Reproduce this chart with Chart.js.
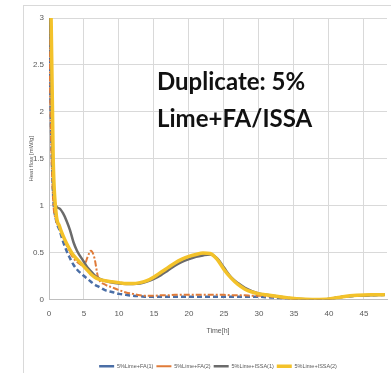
<!DOCTYPE html>
<html>
<head>
<meta charset="utf-8">
<script src="https://cdn.jsdelivr.net/npm/chart.js@4"></script>
<style>
  html, body { margin: 0; padding: 0; background: #fff; }
  #wrap { width: 391px; height: 373px; position: relative; }
</style>
</head>
<body>
<div id="wrap"><canvas id="chart"></canvas></div>
<script>
// time in hours
const timeH = [0, 0.3, 0.6, 1, 1.5, 2, 2.5, 3, 3.5, 4, 5, 5.5, 6, 6.5, 7, 8, 9, 10, 11, 12, 13, 14, 15, 16, 17, 18, 19, 20, 21, 22, 23, 24, 25, 26, 27, 28, 29, 30, 31, 32, 33, 34, 35, 36, 38, 40, 42, 44, 46, 48];

const limeFA1 = [3.0, 1.8, 1.1, 0.85, 0.74, 0.62, 0.52, 0.44, 0.37, 0.32, 0.25, 0.22, 0.19, 0.16, 0.14, 0.1, 0.08, 0.06, 0.05, 0.04, 0.035, 0.03, 0.03, 0.03, 0.03, 0.03, 0.03, 0.03, 0.03, 0.03, 0.03, 0.03, 0.03, 0.03, 0.03, 0.03, 0.03, 0.03, 0.025, 0.02, 0.015, 0.01, 0.005, 0, 0, 0.005, 0.03, 0.04, 0.045, 0.05];
const limeFA2 = [2.9, 1.7, 1.05, 0.85, 0.76, 0.68, 0.58, 0.5, 0.44, 0.4, 0.36, 0.45, 0.52, 0.44, 0.24, 0.16, 0.13, 0.1, 0.075, 0.06, 0.045, 0.04, 0.04, 0.045, 0.045, 0.05, 0.05, 0.05, 0.05, 0.05, 0.05, 0.05, 0.05, 0.045, 0.045, 0.045, 0.04, 0.04, 0.035, 0.03, 0.02, 0.01, 0.005, 0, 0, 0.005, 0.03, 0.045, 0.05, 0.05];
const limeISSA1 = [3.3, 2.6, 1.3, 1.0, 0.97, 0.92, 0.84, 0.74, 0.61, 0.52, 0.4, 0.34, 0.3, 0.26, 0.23, 0.2, 0.18, 0.17, 0.165, 0.165, 0.17, 0.19, 0.22, 0.26, 0.31, 0.36, 0.4, 0.43, 0.455, 0.47, 0.48, 0.44, 0.34, 0.24, 0.175, 0.125, 0.09, 0.065, 0.05, 0.04, 0.03, 0.02, 0.01, 0.005, 0, 0.005, 0.03, 0.04, 0.045, 0.05];
const limeISSA2 = [3.3, 3.0, 1.5, 0.93, 0.78, 0.68, 0.6, 0.53, 0.47, 0.43, 0.35, 0.31, 0.27, 0.24, 0.22, 0.2, 0.19, 0.18, 0.17, 0.17, 0.18, 0.2, 0.24, 0.29, 0.34, 0.39, 0.43, 0.46, 0.48, 0.495, 0.49, 0.43, 0.32, 0.23, 0.16, 0.11, 0.08, 0.06, 0.05, 0.04, 0.03, 0.02, 0.01, 0.005, 0, 0.005, 0.03, 0.045, 0.05, 0.05];

const seriesNames = ['5%Lime+FA(1)', '5%Lime+FA(2)', '5%Lime+ISSA(1)', '5%Lime+ISSA(2)'];
const yTicks = ['0', '0.5', '1', '1.5', '2', '2.5', '3'];
const xTitle = 'Time[h]';
const yTitle = 'Heat flow [mW/g]';
const noteLines = ['Duplicate: 5%', 'Lime+FA/ISSA'];

const narrow = "'Liberation Sans Narrow', 'Liberation Sans', sans-serif";
const tickFont = { family: narrow, size: 8 };
const pts = arr => arr.map((v, i) => ({ x: timeH[i], y: v }));

const frame = {
  id: 'frame',
  beforeDraw(chart) {
    const ctx = chart.ctx;
    ctx.save();
    ctx.strokeStyle = '#d9d9d9';
    ctx.lineWidth = 1;
    ctx.strokeRect(23.5, 5.5, 420, 420);
    ctx.restore();
  },
  afterDatasetsDraw(chart) {
    const ctx = chart.ctx;
    ctx.save();
    ctx.fillStyle = '#111';
    ctx.font = "bold 24px Lato, 'Liberation Sans', sans-serif";
    ctx.textBaseline = 'alphabetic';
    ctx.fillText(noteLines[0], 157, 90);
    ctx.fillText(noteLines[1], 157, 127);
    ctx.restore();
  }
};

new Chart(document.getElementById('chart'), {
  type: 'line',
  data: {
    datasets: [
      { label: seriesNames[0], data: pts(limeFA1), borderColor: '#4a6ea6', backgroundColor: '#4a6ea6', borderWidth: 2.5, borderDash: [5, 3], order: 3 },
      { label: seriesNames[1], data: pts(limeFA2), borderColor: '#e07b39', backgroundColor: '#e07b39', borderWidth: 2, borderDash: [6, 2, 2, 2], order: 2 },
      { label: seriesNames[2], data: pts(limeISSA1), borderColor: '#6b6b6b', backgroundColor: '#6b6b6b', borderWidth: 2.5, order: 1 },
      { label: seriesNames[3], data: pts(limeISSA2), borderColor: '#f3c22a', backgroundColor: '#f3c22a', borderWidth: 3.5, order: 0 }
    ]
  },
  options: {
    responsive: true,
    maintainAspectRatio: false,
    animation: false,
    cubicInterpolationMode: 'monotone',
    elements: { point: { radius: 0 } },
    layout: { padding: { left: 26, top: 18, right: 4, bottom: -6 } },
    plugins: {
      legend: {
        position: 'bottom',
        fullSize: false,
        labels: {
          usePointStyle: true, pointStyle: 'line', pointStyleWidth: 15, boxWidth: 15, boxHeight: 5,
          padding: 3, color: '#595959', font: { family: narrow, size: 5.5 },
          sort: (a, b) => a.datasetIndex - b.datasetIndex
        }
      },
      tooltip: { enabled: false }
    },
    scales: {
      x: {
        type: 'linear', min: 0, max: 48.3,
        ticks: { stepSize: 5, includeBounds: false, color: '#595959', font: tickFont, padding: 9 },
        grid: { color: '#d9d9d9', drawTicks: false },
        border: { color: '#bfbfbf' },
        title: { display: true, text: xTitle, color: '#595959', font: { family: narrow, size: 7 }, padding: { top: 4, bottom: 25 } },
        afterFit: s => { s.height = 61; }
      },
      y: {
        min: 0, max: 3,
        ticks: { stepSize: 0.5, color: '#595959', font: tickFont, padding: 5, callback: (v, i) => yTicks[i] },
        grid: { color: '#d9d9d9', drawTicks: false },
        border: { color: '#bfbfbf' },
        title: { display: true, text: yTitle, color: '#595959', font: { family: narrow, size: 6 }, padding: 2 },
        afterFit: s => { s.width = 23; }
      }
    }
  },
  plugins: [frame]
});
</script>
</body>
</html>
